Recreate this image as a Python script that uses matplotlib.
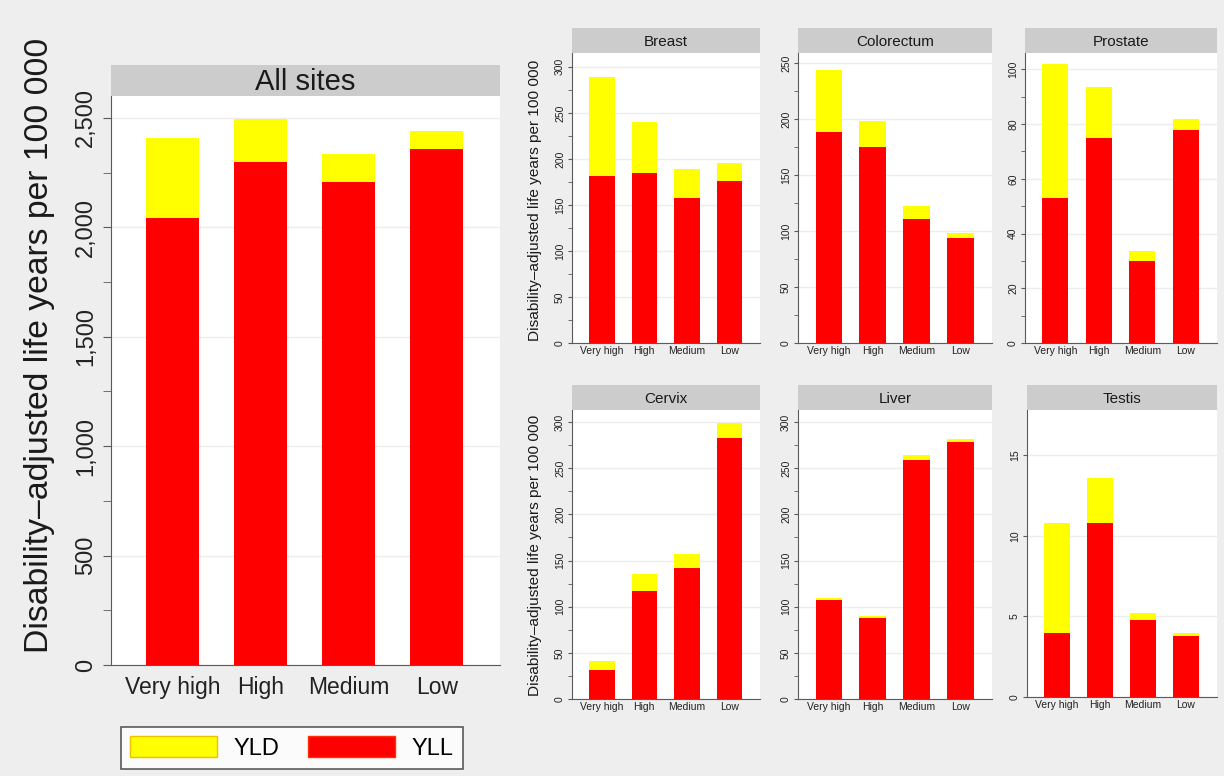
import matplotlib
matplotlib.use('Agg')
import matplotlib.pyplot as plt
import matplotlib.ticker as ticker
import numpy as np

plt.rcParams.update({
    'font.family': ['Liberation Sans', 'DejaVu Sans'],
    'axes.edgecolor': '#5a5a5a',
    'xtick.color': '#5a5a5a',
    'ytick.color': '#5a5a5a',
    'xtick.labelcolor': '#222222',
    'ytick.labelcolor': '#222222',
})

W, H = 1224, 776
BG = '#eeeeee'
YELLOW = '#ffff00'
RED = '#ff0000'
STRIP = '#cccccc'

categories = ['Very high', 'High', 'Medium', 'Low']

all_yll = [2041, 2297, 2206, 2357]
all_yld = [366, 198, 128, 82]

breast_yll = [181, 185, 157, 176]
breast_yld = [108, 55, 32, 20]

colorectum_yll = [188, 175, 111, 94]
colorectum_yld = [56, 23, 11, 4]

prostate_yll = [53, 75, 30, 78]
prostate_yld = [49, 18.5, 3.5, 3.7]

cervix_yll = [31, 117, 142, 283]
cervix_yld = [10.5, 18, 14.6, 16]

liver_yll = [107, 88, 259, 278]
liver_yld = [2.8, 1.6, 5, 4]

testis_yll = [4.0, 10.8, 4.8, 3.8]
testis_yld = [6.8, 2.8, 0.4, 0.15]

YLABEL = 'Disability\u2013adjusted life years per 100 000'


def px_axes(fig, l, t, r, b):
    return fig.add_axes([l / W, 1 - b / H, (r - l) / W, (b - t) / H])


def strip(fig, l, t, r, b, title, size):
    sax = px_axes(fig, l, t, r, b)
    sax.set_facecolor(STRIP)
    sax.set_xticks([])
    sax.set_yticks([])
    for s in sax.spines.values():
        s.set_visible(False)
    sax.text(0.5, 0.45, title, ha='center', va='center', fontsize=size,
             color='#1a1a1a', transform=sax.transAxes)


def panel(fig, box, title, yll, yld, ymax, step, minor=True,
          big=False, comma=False):
    l, t, r, b = box
    ax = px_axes(fig, l, t, r, b)
    strip(fig, l, t - (31 if big else 25), r, t, title, 21 if big else 11)
    x = np.arange(len(categories))
    ax.bar(x, yll, width=0.6, color=RED, zorder=3)
    ax.bar(x, yld, width=0.6, bottom=yll, color=YELLOW, zorder=3)
    ax.set_xlim(-0.7, 3.72)
    ax.set_ylim(0, ymax)
    ax.set_xticks(x)
    ax.set_xticklabels(categories)
    ax.yaxis.set_major_locator(ticker.MultipleLocator(step))
    if minor:
        ax.yaxis.set_minor_locator(ticker.MultipleLocator(step / 2))
    if comma:
        ax.yaxis.set_major_formatter(ticker.FuncFormatter(lambda v, _: f'{v:,.0f}'))
    ax.grid(axis='y', color='#ededed', linewidth=1.0, zorder=0)
    ax.spines['top'].set_visible(False)
    ax.spines['right'].set_visible(False)
    ax.set_facecolor('white')
    if big:
        ax.tick_params(axis='y', labelsize=17, rotation=90, length=6, pad=4)
        ax.tick_params(axis='y', which='minor', length=6)
        ax.tick_params(axis='x', labelsize=16.5, length=0, pad=8)
    else:
        ax.tick_params(axis='y', labelsize=7.5, rotation=90, length=3, pad=2)
        ax.tick_params(axis='y', which='minor', length=3)
        ax.tick_params(axis='x', labelsize=7.5, length=0, pad=2)
    for lab in ax.get_yticklabels():
        lab.set_va('center')
    return ax


def main():
    fig = plt.figure(figsize=(W / 100, H / 100), dpi=100, facecolor=BG)

    panel(fig, (111, 96, 500, 665), 'All sites', all_yll, all_yld,
          2600, 500, big=True, comma=True)
    fig.text(40 / W, 1 - 345 / H, YLABEL, rotation=90, ha='center',
             va='center', fontsize=24.3, color='#1a1a1a')

    panel(fig, (572, 53, 760, 343), 'Breast', breast_yll, breast_yld, 315, 50)
    panel(fig, (798, 53, 992, 343), 'Colorectum', colorectum_yll,
          colorectum_yld, 259, 50)
    panel(fig, (1025, 53, 1217, 343), 'Prostate', prostate_yll,
          prostate_yld, 106, 20)
    panel(fig, (572, 410, 760, 699), 'Cervix', cervix_yll, cervix_yld, 313, 50)
    panel(fig, (798, 410, 992, 699), 'Liver', liver_yll, liver_yld, 313, 50)
    panel(fig, (1027, 410, 1217, 697), 'Testis', testis_yll, testis_yld,
          17.8, 5, minor=False)

    for yc in (200, 555):
        fig.text(535 / W, 1 - yc / H, YLABEL, rotation=90, ha='center',
                 va='center', fontsize=11.1, color='#1a1a1a')

    handles = [plt.Rectangle((0, 0), 1, 1, facecolor=YELLOW, edgecolor='#f0c000'),
               plt.Rectangle((0, 0), 1, 1, facecolor=RED, edgecolor='#ff3000')]
    leg = fig.legend(handles, ['YLD', 'YLL'], loc='center',
                     bbox_to_anchor=(292 / W, 1 - 748 / H), ncol=2,
                     fontsize=17, frameon=True, fancybox=False,
                     handlelength=3.7, handleheight=1.0, handletextpad=0.7,
                     columnspacing=1.2, borderpad=0.4)
    leg.get_frame().set_edgecolor('#333333')
    leg.get_frame().set_linewidth(1.2)
    leg.get_frame().set_facecolor('white')

    fig.savefig('out.png', dpi=100, facecolor=BG)
    plt.close(fig)


if __name__ == '__main__':
    main()
